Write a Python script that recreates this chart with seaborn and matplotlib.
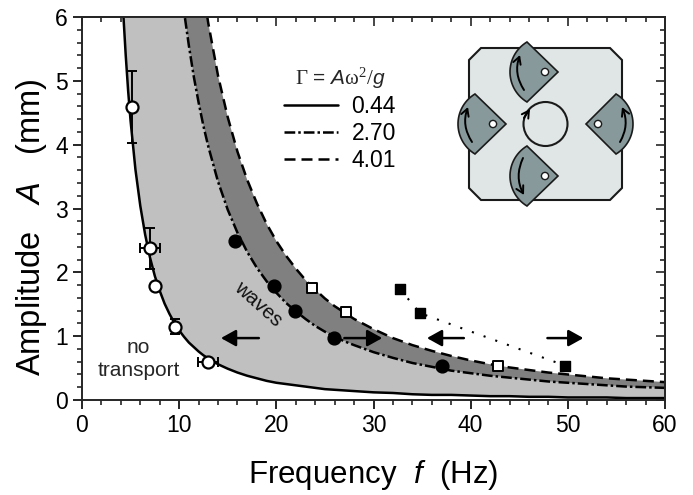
import numpy as np
import matplotlib
matplotlib.use("Agg")
import matplotlib.pyplot as plt
import seaborn as sns
from matplotlib.lines import Line2D
from matplotlib.patches import Circle, FancyArrowPatch, Polygon

# boundary curves
freq = [4, 4.25, 4.5, 4.75, 5, 5.5, 6, 6.5, 7, 7.5, 8, 8.5, 9, 9.5, 10, 10.5, 11, 11.5, 12, 12.5, 13, 14, 15, 16, 17,
        18, 19, 20, 21, 22, 23, 24, 25, 26, 27, 28, 30, 32, 34, 36, 38, 40, 42, 44, 46, 48, 50, 52, 54, 56, 58, 60]
gamma_044 = [6.83, 6.05, 5.40, 4.84, 4.37, 3.61, 3.04, 2.59, 2.23, 1.94, 1.71, 1.51, 1.35, 1.21, 1.09, 0.99, 0.90,
             0.83, 0.76, 0.70, 0.65, 0.56, 0.49, 0.43, 0.38, 0.34, 0.30, 0.27, 0.25, 0.23, 0.21, 0.19, 0.17, 0.16,
             0.15, 0.14, 0.12, 0.11, 0.09, 0.08, 0.08, 0.07, 0.06, 0.06, 0.05, 0.05, 0.04, 0.04, 0.04, 0.03, 0.03, 0.03]
gamma_270 = [41.9, 37.2, 33.1, 29.7, 26.8, 22.2, 18.6, 15.9, 13.7, 11.9, 10.5, 9.29, 8.28, 7.43, 6.71, 6.09, 5.55,
             5.07, 4.66, 4.29, 3.97, 3.42, 2.98, 2.62, 2.32, 2.07, 1.86, 1.68, 1.52, 1.39, 1.27, 1.16, 1.07, 0.99,
             0.92, 0.86, 0.75, 0.66, 0.58, 0.52, 0.46, 0.42, 0.38, 0.35, 0.32, 0.29, 0.27, 0.25, 0.23, 0.21, 0.20, 0.19]
gamma_401 = [62.3, 55.2, 49.2, 44.2, 39.9, 32.9, 27.7, 23.6, 20.3, 17.7, 15.6, 13.8, 12.3, 11.0, 9.97, 9.04, 8.24,
             7.54, 6.92, 6.38, 5.90, 5.08, 4.43, 3.89, 3.45, 3.08, 2.76, 2.49, 2.26, 2.06, 1.88, 1.73, 1.59, 1.47,
             1.37, 1.27, 1.11, 0.97, 0.86, 0.77, 0.69, 0.62, 0.56, 0.51, 0.47, 0.43, 0.40, 0.37, 0.34, 0.32, 0.30, 0.28]

# measured points
open_circle_f = [5.1, 7.0, 7.5, 9.6, 13.0]
open_circle_a = [4.59, 2.38, 1.79, 1.15, 0.59]
open_circle_ferr = [0, 1.05, 0, 0, 1.03]
open_circle_aerr = [0.57, 0.32, 0, 0.12, 0]
full_circle_f = [15.7, 19.8, 21.9, 25.9, 37.1]
full_circle_a = [2.49, 1.78, 1.39, 0.97, 0.54]
open_square_f = [23.7, 27.2, 42.8]
open_square_a = [1.76, 1.38, 0.53]
full_square_f = [32.7, 34.8, 49.7]
full_square_a = [1.74, 1.36, 0.54]

legend_labels = ["0.44", "2.70", "4.01"]
DASHDOT = (0, (4.3, 1.2, 1, 1.2))
DASHED = (0, (4.4, 2.4))

plt.rcParams["mathtext.fontset"] = "custom"
plt.rcParams["mathtext.rm"] = "Liberation Serif"
plt.rcParams["mathtext.it"] = "Liberation Sans:italic"
sns.set_theme(style="ticks")
plt.rcParams["font.family"] = ["Liberation Sans", "DejaVu Sans"]

fig = plt.figure(figsize=(6.93, 4.95), dpi=100)
ax = fig.add_axes([82 / 693, 1 - 400 / 495, (665 - 82) / 693, (400 - 17) / 495])

# shaded bands
ax.fill_between(freq, gamma_044, gamma_270, color="#c0c0c0", lw=0, zorder=1)
ax.fill_between(freq, gamma_270, gamma_401, color="#808080", lw=0, zorder=1)

# boundaries
sns.lineplot(x=freq, y=gamma_044, ax=ax, color="black", lw=1.8, sort=False, estimator=None, zorder=2)
sns.lineplot(x=freq, y=gamma_270, ax=ax, color="black", lw=1.8, ls=DASHDOT, sort=False, estimator=None, zorder=2)
sns.lineplot(x=freq, y=gamma_401, ax=ax, color="black", lw=1.8, ls=DASHED, sort=False, estimator=None, zorder=2)

# data
ax.errorbar(open_circle_f, open_circle_a, xerr=open_circle_ferr, yerr=open_circle_aerr, fmt="none",
            ecolor="black", elinewidth=1.4, capsize=3.6, capthick=1.4, zorder=3)
sns.lineplot(x=full_square_f, y=full_square_a, ax=ax, color="black", lw=1.5, ls=(0, (1, 4.95)), sort=False,
             estimator=None, zorder=3)
sns.scatterplot(x=open_circle_f, y=open_circle_a, ax=ax, marker="o", s=75, color="white", edgecolor="black",
                linewidth=1.6, zorder=4)
sns.scatterplot(x=full_circle_f, y=full_circle_a, ax=ax, marker="o", s=85, color="black", edgecolor="black",
                linewidth=1, zorder=4)
sns.scatterplot(x=open_square_f, y=open_square_a, ax=ax, marker="s", s=62, color="white", edgecolor="black",
                linewidth=1.4, zorder=4)
sns.scatterplot(x=full_square_f, y=full_square_a, ax=ax, marker="s", s=62, color="black", edgecolor="black",
                linewidth=1, zorder=4)

# direction arrows
for x0, x1 in [(18.2, 14.3), (27.0, 30.9), (39.3, 35.5), (47.9, 51.6)]:
    ax.annotate("", xy=(x1, 0.97), xytext=(x0, 0.97),
                arrowprops=dict(arrowstyle="-|>,head_length=0.9,head_width=0.5", color="black", lw=1.8,
                                shrinkA=0, shrinkB=0, mutation_scale=10), zorder=5)

ax.text(18.1, 1.5, "waves", rotation=-42, ha="center", va="center", fontsize=14.5, color="#111111",
        rotation_mode="anchor", zorder=5)
ax.text(5.8, 0.64, "no\ntransport", ha="center", va="center", fontsize=15, linespacing=1.25, zorder=5)

xticks = np.arange(0, 61, 10)
yticks = np.arange(0, 7, 1)
xminor = np.arange(0, 61, 2)
yminor = np.arange(0, 6.1, 0.2)
ax.set_xlim(0, 60)
ax.set_ylim(0, 6)
ax.set_xticks(xticks)
ax.set_yticks(yticks)
ax.set_xticks(xminor, minor=True)
ax.set_yticks(yminor, minor=True)
ax.tick_params(which="major", direction="out", length=6.5, width=1.2, labelsize=16.5, pad=3.5, colors="black")
ax.tick_params(which="minor", direction="out", length=3.6, width=1.2)
for s in ax.spines.values():
    s.set_linewidth(1.4)
    s.set_visible(True)

# top and right ticks point inward, left and bottom outward
top = ax.secondary_xaxis("top")
top.set_xticks(xticks)
top.set_xticks(xminor, minor=True)
top.set_xticklabels([])
top.tick_params(which="major", direction="in", length=6.5, width=1.2)
top.tick_params(which="minor", direction="in", length=3.6, width=1.2)
right = ax.secondary_yaxis("right")
right.set_yticks(yticks)
right.set_yticks(yminor, minor=True)
right.set_yticklabels([])
right.tick_params(which="major", direction="in", length=6.5, width=1.2)
right.tick_params(which="minor", direction="in", length=3.6, width=1.2)

ax.set_xlabel("Frequency  $\\mathit{f}$  (Hz)", fontsize=22.5, labelpad=15, color="black")
ax.set_ylabel("Amplitude   $\\mathit{A}$   (mm)", fontsize=23.5, labelpad=4.5, y=0.45, color="black")

# legend
handles = [Line2D([], [], color="black", lw=1.8),
           Line2D([], [], color="black", lw=1.8, ls=DASHDOT),
           Line2D([], [], color="black", lw=1.8, ls=DASHED)]
leg = ax.legend(handles, legend_labels, title="$\\Gamma$ = $\\mathit{A}\\mathrm{\\omega}^2/\\mathit{g}$",
                frameon=False, fontsize=16.5, title_fontsize=15, loc="upper left", bbox_to_anchor=(0.347, 0.875),
                handlelength=2.33, handletextpad=0.6, labelspacing=0.175, borderpad=0, borderaxespad=0)
for t in leg.get_texts():
    t.set_color("black")

# sketch of the plate, drawn in figure pixels
over = fig.add_axes([0, 0, 1, 1], facecolor="none")
over.set_xlim(0, 693)
over.set_ylim(495, 0)
over.axis("off")
over.add_patch(Polygon([(481, 48), (610, 48), (622, 60), (622, 188), (610, 200), (481, 200), (469, 188), (469, 60)],
                       closed=True, fc="#dfe6e5", ec="#1a1a1a", lw=1.5))


def sector(tip, dot, start, stop):
    ang = np.radians(np.linspace(start, stop, 30))
    pts = [tip] + [(dot[0] + 35 * np.cos(a), dot[1] + 35 * np.sin(a)) for a in ang]
    over.add_patch(Polygon(pts, closed=True, fc="#87999a", ec="#1a1a1a", lw=1.2))
    over.add_patch(Circle(dot, 3.6, fc="white", ec="#1a1a1a", lw=1))


sector((558, 72), (545, 72), 121, 239)
sector((558, 176), (545, 176), 121, 239)
sector((506, 124), (493, 124), 121, 239)
sector((586, 124), (598, 124), -59, 59)
over.add_patch(Circle((545.5, 124), 22, fc="#dfe6e5", ec="#1a1a1a", lw=1.5))

arrow_kw = dict(arrowstyle="->,head_length=5,head_width=2.8", color="black", lw=1.4, shrinkA=0, shrinkB=0)
over.add_patch(FancyArrowPatch((524, 90), (520, 55), connectionstyle="arc3,rad=-0.25", **arrow_kw))
over.add_patch(FancyArrowPatch((472, 142), (468, 107), connectionstyle="arc3,rad=-0.25", **arrow_kw))
over.add_patch(FancyArrowPatch((620, 142), (622, 107), connectionstyle="arc3,rad=0.25", **arrow_kw))
over.add_patch(FancyArrowPatch((523, 158), (524, 195), connectionstyle="arc3,rad=0.25", **arrow_kw))
over.add_patch(FancyArrowPatch((524, 118), (530, 109), **arrow_kw))

fig.savefig("out.png", dpi=100, facecolor="white")
